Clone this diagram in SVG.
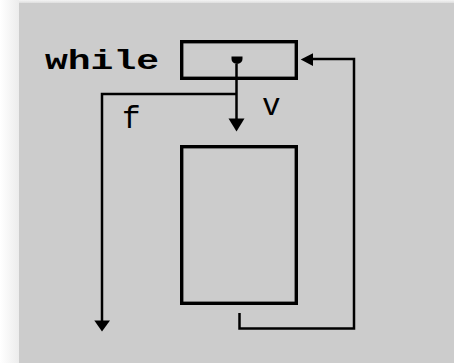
<svg xmlns="http://www.w3.org/2000/svg" width="454" height="363" viewBox="0 0 454 363">
  <defs>
    <linearGradient id="shadowL" x1="0" y1="0" x2="1" y2="0">
      <stop offset="0" stop-color="#ffffff"/>
      <stop offset="1" stop-color="#ececec"/>
    </linearGradient>
    <linearGradient id="shadowT" x1="0" y1="0" x2="0" y2="1">
      <stop offset="0" stop-color="#f4f4f4"/>
      <stop offset="1" stop-color="#dedede"/>
    </linearGradient>
  </defs>
  <style>
    .box { fill: none; stroke: #000; stroke-width: 3.4; }
    .wire { fill: none; stroke: #000; stroke-width: 2.5; }
    .head { fill: #000; stroke: none; }
    .kw { font-family: "Liberation Mono", "Courier New", monospace; font-weight: bold; font-size: 27px; fill: #000; }
    .lbl { font-family: "Liberation Mono", "Courier New", monospace; font-size: 31px; fill: #000; }
  </style>
  <rect x="0" y="0" width="454" height="363" fill="#ffffff"/>
  <rect x="0" y="0" width="19" height="363" fill="url(#shadowL)"/>
  <rect x="19" y="0" width="435" height="3" fill="url(#shadowT)"/>
  <rect x="19" y="3" width="435" height="360" fill="#cccccc"/>

  <g id="label-while">
    <text class="kw" x="45" y="69" textLength="114" lengthAdjust="spacingAndGlyphs">while</text>
  </g>

  <g id="condition">
    <rect class="box" x="181.7" y="41.7" width="114.6" height="36.6"/>
    <path class="head" d="M231.5,56.5 H242.5 V59 A5.5,5 0 0 1 231.5,59 Z"/>
  </g>

  <g id="body">
    <rect class="box" x="181.7" y="146.7" width="114.6" height="156.6"/>
  </g>

  <g id="connectors">
    <!-- true branch -->
    <line class="wire" x1="236.5" y1="64" x2="236.5" y2="119"/>
    <polygon class="head" points="228.5,118.5 244.5,118.5 236.5,131.5"/>
    <!-- false branch -->
    <polyline class="wire" points="236.5,94 102,94 102,321"/>
    <polygon class="head" points="94.3,320.5 110,320.5 102,331.5"/>
    <!-- loop back -->
    <polyline class="wire" points="239.5,313 239.5,328.5 354,328.5 354,59 312,59"/>
    <polygon class="head" points="313,53.3 313,66 300.7,59.6"/>
  </g>

  <g id="labels">
    <text class="lbl" x="122" y="128">f</text>
    <text class="lbl" x="262" y="115">v</text>
  </g>
</svg>
